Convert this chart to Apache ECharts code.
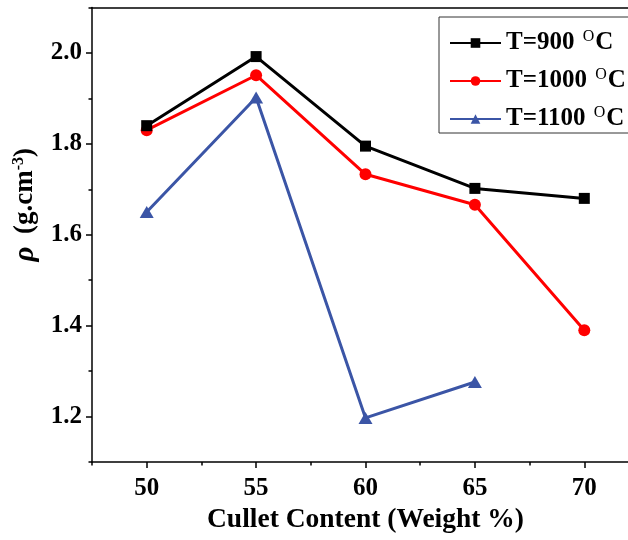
<!DOCTYPE html>
<html>
<head>
<meta charset="utf-8">
<script src="https://cdn.jsdelivr.net/npm/echarts@6/dist/echarts.min.js"></script>
<style>
html, body { margin: 0; padding: 0; background: #fff; overflow: hidden; }
/* the plot frame runs past the right edge of the picture */
#main { width: 639px; height: 540px; }
</style>
</head>
<body>
<div id="main"></div>
<script>
// data
const cullet = [50, 55, 60, 65, 70];
const temps = ['900', '1000', '1100'];
const rho900 = [1.840, 1.992, 1.795, 1.702, 1.680];
const rho1000 = [1.830, 1.951, 1.733, 1.666, 1.390];
const rho1100 = [1.650, 1.902, 1.197, 1.276];
const xMajor = [50, 55, 60, 65, 70];
const xMinor = [47.5, 52.5, 57.5, 62.5, 67.5, 72.5];
const yMajor = [1.2, 1.4, 1.6, 1.8, 2.0];
const yMinor = [1.1, 1.3, 1.5, 1.7, 1.9, 2.1];

const FONT = "'Liberation Serif', 'Times New Roman', serif";
const colors = ['#000000', '#ff0000', '#3b55a6'];
const symbols = ['rect', 'circle', 'triangle'];
const sizes = [11, 12, [14, 12]];
const values = [rho900, rho1000, rho1100];

const myChart = echarts.init(document.getElementById('main'));

const axisLine = {show: true, lineStyle: {color: '#000', width: 1.5}};

const series = temps.map((t, i) => ({
	name: t,
	type: 'line',
	data: values[i].map((v, j) => [cullet[j], v]),
	symbol: symbols[i],
	symbolSize: sizes[i],
	lineStyle: {color: colors[i], width: 3},
	itemStyle: {color: colors[i]},
	z: 3 - i,
}));

const option = {
	backgroundColor: '#fff',
	animation: false,
	grid: {left: 92, right: 0, top: 7.5, bottom: 78},
	legend: {
		orient: 'vertical',
		left: 439,
		top: 17,
		padding: [12, 4, 0, 10],
		itemWidth: 51,
		itemHeight: 12,
		itemGap: 10,
		borderColor: '#333',
		borderWidth: 1,
		data: temps,
		formatter: (n) => 'T=' + n + ' {sup|O}C',
		textStyle: {
			fontFamily: FONT, fontWeight: 'bold', fontSize: 25, color: '#000', lineHeight: 28,
			rich: {
				sup: {fontFamily: FONT, fontWeight: 'normal', fontSize: 16, verticalAlign: 'top', lineHeight: 16, padding: [0, 1, 0, 2]},
			},
		},
	},
	xAxis: [
		{
			type: 'value', position: 'bottom', min: 47.5, max: 72.5,
			axisLine: axisLine,
			axisTick: {show: true, customValues: xMajor, length: 6, lineStyle: {color: '#000', width: 1.5}},
			axisLabel: {customValues: xMajor, fontFamily: FONT, fontWeight: 'bold', fontSize: 25, color: '#000', margin: 14},
			splitLine: {show: false},
			name: 'Cullet Content (Weight %)',
			nameLocation: 'middle',
			nameGap: 44,
			nameTextStyle: {fontFamily: FONT, fontWeight: 'bold', fontSize: 27.5, color: '#000'},
		},
		{
			type: 'value', position: 'bottom', min: 47.5, max: 72.5,
			axisLine: {show: false},
			axisTick: {show: true, customValues: xMinor, length: 3.5, lineStyle: {color: '#000', width: 1.5}},
			axisLabel: {show: false},
			splitLine: {show: false},
		},
		{
			type: 'value', position: 'top', min: 47.5, max: 72.5,
			axisLine: axisLine,
			axisTick: {show: false},
			axisLabel: {show: false},
			splitLine: {show: false},
		},
	],
	yAxis: [
		{
			type: 'value', position: 'left', min: 1.1, max: 2.1,
			axisLine: axisLine,
			axisTick: {show: true, customValues: yMajor, length: 6, lineStyle: {color: '#000', width: 1.5}},
			axisLabel: {
				customValues: yMajor, formatter: (v) => v.toFixed(1),
				fontFamily: FONT, fontWeight: 'bold', fontSize: 25, color: '#000', margin: 10,
			},
			splitLine: {show: false},
			name: '{i|ρ} (g.cm{sup|-3})',
			nameLocation: 'middle',
			nameGap: 43,
			nameTextStyle: {
				fontFamily: FONT, fontWeight: 'bold', fontSize: 27, color: '#000', padding: [0, 0, 0, 60],
				rich: {
					i: {fontFamily: FONT, fontWeight: 'bold', fontStyle: 'italic', fontSize: 29, padding: [0, 6, 0, 0]},
					sup: {fontFamily: FONT, fontWeight: 'bold', fontSize: 16, verticalAlign: 'top', lineHeight: 14},
				},
			},
		},
		{
			type: 'value', position: 'left', min: 1.1, max: 2.1,
			axisLine: {show: false},
			axisTick: {show: true, customValues: yMinor, length: 3.5, lineStyle: {color: '#000', width: 1.5}},
			axisLabel: {show: false},
			splitLine: {show: false},
		},
		{
			type: 'value', position: 'right', min: 1.1, max: 2.1,
			axisLine: axisLine,
			axisTick: {show: false},
			axisLabel: {show: false},
			splitLine: {show: false},
		},
	],
	series: series,
};

option && myChart.setOption(option);
</script>
</body>
</html>
